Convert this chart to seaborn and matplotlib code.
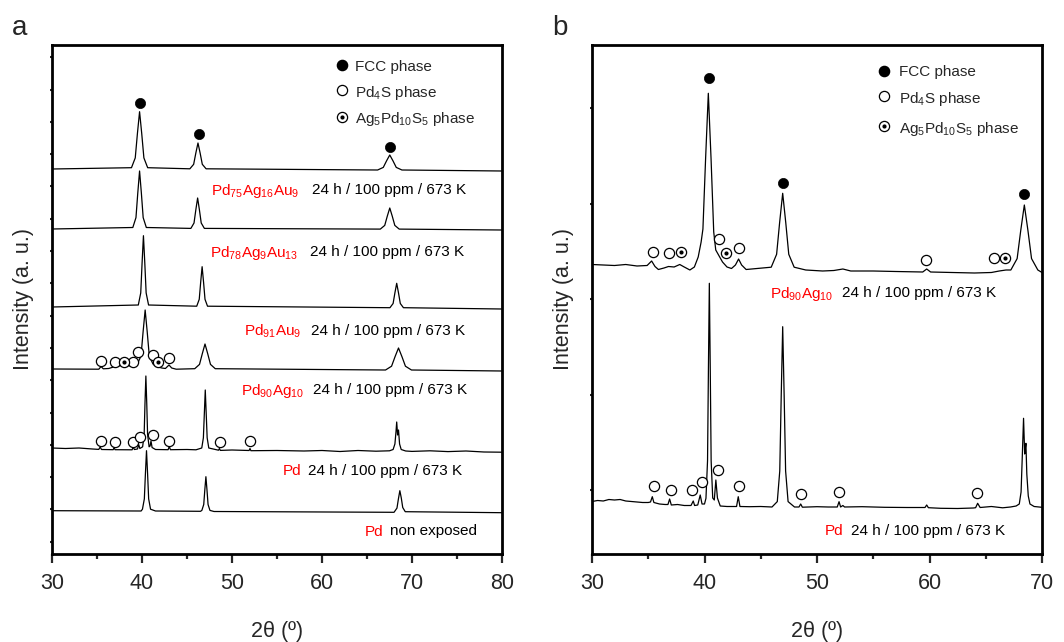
import numpy as np
import pandas as pd
import matplotlib
matplotlib.use("Agg")
import matplotlib.pyplot as plt
import seaborn as sns

# ---------------- panel a : stacked XRD patterns (2theta, offset intensity) -------------
a_pd75ag16au9_x = [30, 38.83, 39.25, 39.49, 39.73, 39.97, 40.21, 40.63, 45.32, 45.74, 45.98, 46.22, 46.46,
                   46.70, 47.12, 66.18, 66.81, 67.17, 67.53, 67.89, 68.25, 68.88, 80]
a_pd75ag16au9_y = [385, 386.3, 396.1, 420.4, 442.3, 420.4, 396.1, 386.3, 385.2, 389.7, 400.9, 411, 400.9,
                   389.7, 385.2, 384.0, 386.6, 393.1, 399, 393.1, 386.6, 384.0, 383]

a_pd78ag9au13_x = [30, 38.98, 39.33, 39.53, 39.73, 39.93, 40.13, 40.48, 45.43, 45.78, 45.98, 46.18, 46.38,
                   46.58, 46.93, 66.48, 66.97, 67.25, 67.53, 67.81, 68.09, 68.58, 80]
a_pd78ag9au13_y = [325, 326.5, 336.4, 360.9, 383, 360.9, 336.4, 326.5, 325.6, 331.0, 344.1, 356, 344.1,
                   331.0, 325.6, 324.9, 328.6, 337.7, 346, 337.7, 328.6, 324.9, 324]

a_pd91au9_x = [30, 39.59, 39.86, 40.01, 40.16, 40.31, 40.46, 40.73, 46.08, 46.36, 46.52, 46.68, 46.84,
               47.00, 47.28, 67.55, 67.90, 68.10, 68.30, 68.50, 68.70, 69.05, 80]
a_pd91au9_y = [247, 249.0, 261.1, 291.1, 318.3, 291.1, 261.1, 249.0, 247.8, 254.7, 271.8, 287.3, 271.8,
               254.7, 247.8, 246.3, 250.5, 261.1, 270.7, 261.1, 250.5, 246.3, 245]

a_pd90ag10_x = [30, 35.2, 35.45, 35.7, 36.3, 37.0, 37.7, 38.0, 38.3, 38.8, 39.0, 39.2, 39.48, 39.89, 40.12,
                40.35, 40.58, 40.81, 41.22, 41.5, 41.8, 42.2, 42.6, 43.0, 43.3, 43.8, 45.86, 46.39, 46.70,
                47.0, 47.30, 47.61, 48.14, 67.06, 67.73, 68.12, 68.5, 68.88, 69.27, 69.94, 80]
a_pd90ag10_y = [185, 184.8, 187.5, 185.2, 185.5, 187.5, 188.5, 189.5, 188.5, 188, 189.5, 188.5, 190, 198, 222,
                244, 222, 198, 190, 188, 187, 186, 185.5, 189, 186, 184.8, 185.3, 189.6, 200.3,
                210, 200.3, 189.6, 185.3, 184.0, 187.8, 197.4, 206, 197.4, 187.8, 184.0, 183]

a_pd_exposed_x = [30, 31.5, 33, 34.5, 35.2, 35.35, 35.5, 36.8, 36.9, 37.0, 38.9, 39.02, 39.15, 39.5, 39.63,
                  39.76, 40.07, 40.24, 40.33, 40.43, 40.53, 40.62, 40.79, 40.9, 41.0, 41.12, 41.5, 42.9,
                  43.03, 43.16, 45, 46.0, 46.64, 46.82, 46.93, 47.03, 47.13, 47.24, 47.42, 48.5, 48.6,
                  48.7, 50, 51.9, 52.0, 52.1, 55, 58, 60, 62, 64, 66, 67.5, 67.9, 68.1, 68.22, 68.3,
                  68.4, 68.5, 68.62, 68.8, 69.3, 70, 72, 74, 76, 78, 80]
a_pd_exposed_y = [106, 105.5, 106, 105, 104.6, 107, 104.5, 104.3, 106.5, 104.3, 104.2, 107, 104.5, 105, 109.5,
                  105.5, 107.2, 119.6, 150.1, 178, 150.1, 119.6, 107.2, 108, 113, 106.5, 104.5, 104.3,
                  107.5, 104.3, 104.5, 104.2, 106.0, 116.2, 141.3, 164, 141.3, 116.2, 106.0, 103.8, 105.5,
                  103.6, 104, 103.5, 105.5, 103.3, 103.5, 103, 103.5, 102.5, 103.5, 102.8, 103.2, 104.5, 110,
                  122, 132, 119, 124, 110, 104.5, 103, 102.6, 103.2, 102.4, 103, 102, 101.8]

a_pd_fresh_x = [30, 39.9, 40.05, 40.26, 40.38, 40.5, 40.62, 40.74, 40.95, 41.5, 46.5, 46.65, 46.86, 46.98,
                47.1, 47.22, 47.34, 47.55, 48, 68.0, 68.05, 68.33, 68.49, 68.65, 68.81, 68.97, 69.25, 80]
a_pd_fresh_y = [43.3, 43.0, 44.8, 55.1, 80.4, 103.3, 80.4, 55.1, 44.8, 43.0, 42.7, 43.6, 49.5, 64.1,
                77.3, 64.1, 49.5, 43.6, 42.5, 41.7, 42.3, 45.9, 55.1, 63.3, 56.0, 46.5, 42.3, 41.3]

# phase markers, panel a
a_fcc_x = [39.73, 46.3, 67.53]
a_fcc_y = [451.3, 419.7, 407.3]
a_pd4s_x = [35.47, 36.97, 39.0, 39.5, 41.23, 43.03, 35.47, 37.01, 39.0, 39.81, 41.23, 43.03, 48.64, 52.02]
a_pd4s_y = [193, 192, 192, 202, 199, 196.3, 113, 112, 112, 117.3, 119, 113, 112, 113]
a_agpds_x = [37.97, 41.81]
a_agpds_y = [192, 192]

# ---------------- panel b -------------
b_pd90ag10_x = [30, 31, 32, 33, 34, 34.9, 35.3, 35.6, 35.9, 36.4, 36.8, 37.3, 37.8, 38.2, 38.7, 39.1, 39.44,
                39.7, 39.86, 40.1, 40.34, 40.58, 40.82, 41.0, 41.3, 41.6, 42.0, 42.4, 42.75, 43.03, 43.3,
                43.7, 45.93, 46.41, 46.68, 46.95, 47.22, 47.49, 47.97, 49, 50.5, 51.5, 52.3, 53, 55, 57,
                59.4, 59.75, 60.1, 62, 64, 65.5, 66.2, 66.8, 67.23, 67.79, 68.11, 68.43, 68.75, 69.07,
                69.63, 70]
b_pd90ag10_y = [289.5, 289, 288.5, 289.5, 288, 288.5, 293, 287.5, 284.5, 286, 287.5, 287, 289.5, 287, 284,
                287, 297, 312, 325, 396, 460.7, 396, 322, 304, 298, 292, 287, 285.5, 289, 295, 289, 284.5,
                286.8, 299.7, 331.7, 360.7, 331.7, 299.7, 286.8, 284, 283, 283.5, 285, 283, 283, 282.5,
                282, 285, 282, 281.5, 281, 281.5, 283, 284, 284, 295.4, 323.5, 349, 323.5, 295.4, 284,
                281.5]

b_pd_exposed_x = [30, 30.5, 31, 31.5, 32, 32.5, 33, 33.5, 34, 34.5, 35.0, 35.2, 35.36, 35.5, 36.0, 36.5,
                  36.75, 36.9, 37.05, 37.6, 38.2, 38.8, 39.0, 39.12, 39.4, 39.62, 39.78, 40.0, 40.13,
                  40.27, 40.35, 40.43, 40.51, 40.59, 40.73, 40.87, 41.01, 41.15, 41.4, 42.0, 42.85, 43.0,
                  43.15, 44, 45, 46.0, 46.47, 46.69, 46.82, 46.95, 47.08, 47.21, 47.43, 48, 48.4, 48.55,
                  48.7, 50, 51, 51.8, 51.96, 52.1, 52.3, 52.45, 54, 56, 58, 59.6, 59.75, 59.9, 61, 62.5,
                  63.9, 64.1, 64.28, 64.5, 65.5, 66.5, 67.2, 67.7, 67.98, 68.14, 68.24, 68.36, 68.46,
                  68.52, 68.57, 68.65, 68.78, 68.93, 69.3, 70]
b_pd_exposed_y = [52.5, 53.5, 53, 54.5, 54, 54.5, 53, 52.5, 52, 51.5, 51.5, 52, 57.3, 51.5, 50, 49.5,
                  49.5, 55, 49, 49.5, 48.5, 48.5, 53, 48.5, 49, 59, 50, 50, 55.7,
                  93.3, 186.5, 270.7, 186.5, 93.3, 56, 54, 74, 56, 48, 47.5, 47.5, 57.3,
                  47.5, 47.3, 47.5, 47, 52.4, 83, 158.6, 227.3, 158.6, 83, 52.4, 47, 47, 50,
                  46.8, 47.3, 47, 47, 52.3, 47, 48.5, 47, 47.3, 46.7, 46.5, 46.5, 49, 46.3, 45.7, 45.5,
                  46, 46.3, 50.7, 46.5, 47.5, 46.2, 47, 48, 50, 62, 95, 135.7, 100,
                  106, 110.7, 80, 58, 50, 47.5, 46.7]

b_fcc_x = [40.41, 46.95, 68.42]
b_fcc_y = [475.7, 371.3, 360]
b_pd4s_x = [35.44, 36.86, 41.3, 43.07, 59.7, 65.76, 35.53, 37.01, 38.9, 39.76, 41.2, 43.04, 48.6, 51.96, 64.2]
b_pd4s_y = [302.3, 300.7, 314.7, 305.7, 294.3, 296.3, 68, 64, 63.7, 71.7, 84, 68, 60.3, 61.7, 60.7]
b_agpds_x = [37.9, 41.89, 66.73]
b_agpds_y = [301.7, 300.7, 296.3]

legend_labels = ["FCC phase", "Pd$_4$S phase", "Ag$_5$Pd$_{10}$S$_5$ phase"]

a_samples = ["Pd$_{75}$Ag$_{16}$Au$_9$", "Pd$_{78}$Ag$_9$Au$_{13}$", "Pd$_{91}$Au$_9$",
             "Pd$_{90}$Ag$_{10}$", "Pd", "Pd"]
a_conditions = ["24 h / 100 ppm / 673 K"] * 5 + ["non exposed"]
b_samples = ["Pd$_{90}$Ag$_{10}$", "Pd"]
b_conditions = ["24 h / 100 ppm / 673 K", "24 h / 100 ppm / 673 K"]

# ---------------- style -------------
sns.set_theme(style="ticks")
plt.rcParams["font.family"] = ["Liberation Sans", "DejaVu Sans"]
plt.rcParams["mathtext.default"] = "regular"
plt.rcParams["mathtext.fontset"] = "custom"
plt.rcParams["mathtext.rm"] = "Liberation Sans"
plt.rcParams["mathtext.it"] = "Liberation Sans"

fig = plt.figure(figsize=(10.64, 6.42), dpi=100)
axa = fig.add_axes([52 / 1064, 1 - 554 / 642, 450 / 1064, 509 / 642])
axb = fig.add_axes([592 / 1064, 1 - 554 / 642, 450 / 1064, 509 / 642])

RED = "#ff0000"
TXT = 11
LW = 0.9
MS = 54


def trace(ax, xs, ys):
    sns.lineplot(x=xs, y=ys, ax=ax, color="black", linewidth=LW, estimator=None, sort=False)


def markers(ax, fx, fy, ox, oy, dx, dy):
    sns.scatterplot(x=fx, y=fy, ax=ax, color="black", s=MS, marker="o", edgecolor="black", linewidth=0.5,
                    zorder=5)
    ax.scatter(ox, oy, s=MS, facecolor="white", edgecolor="black", linewidth=0.9, zorder=5)
    ax.scatter(dx, dy, s=MS, facecolor="white", edgecolor="black", linewidth=0.9, zorder=5)
    ax.scatter(dx, dy, s=9, color="black", linewidth=0, zorder=6)


def legend(ax, x, ys, tx):
    ax.scatter([x], [ys[0]], s=MS, color="black", zorder=5)
    ax.scatter([x], [ys[1]], s=MS, facecolor="white", edgecolor="black", linewidth=0.9, zorder=5)
    ax.scatter([x], [ys[2]], s=MS, facecolor="white", edgecolor="black", linewidth=0.9, zorder=5)
    ax.scatter([x], [ys[2]], s=9, color="black", linewidth=0, zorder=6)
    for yy, lab in zip(ys, legend_labels):
        ax.text(tx, yy, lab, fontsize=TXT, va="center_baseline", ha="left")


for xs, ys in [(a_pd75ag16au9_x, a_pd75ag16au9_y), (a_pd78ag9au13_x, a_pd78ag9au13_y),
               (a_pd91au9_x, a_pd91au9_y), (a_pd90ag10_x, a_pd90ag10_y),
               (a_pd_exposed_x, a_pd_exposed_y), (a_pd_fresh_x, a_pd_fresh_y)]:
    trace(axa, xs, ys)
markers(axa, a_fcc_x, a_fcc_y, a_pd4s_x, a_pd4s_y, a_agpds_x, a_agpds_y)
legend(axa, 62.2, [489, 464, 437], 63.7)

a_label_pos = [(47.72, 58.9, 365.3), (47.52, 58.7, 304), (51.37, 58.78, 224.7),
               (51.02, 59.0, 165.7), (55.63, 58.5, 84.7), (64.72, 67.61, 24)]
for (sx, cx, yy), s, c in zip(a_label_pos, a_samples, a_conditions):
    axa.text(sx, yy, s, color=RED, fontsize=TXT, va="center_baseline", ha="left")
    axa.text(cx, yy, c, color="black", fontsize=TXT, va="center_baseline", ha="left")

trace(axb, b_pd90ag10_x, b_pd90ag10_y)
trace(axb, b_pd_exposed_x, b_pd_exposed_y)
markers(axb, b_fcc_x, b_fcc_y, b_pd4s_x, b_pd4s_y, b_agpds_x, b_agpds_y)
legend(axb, 55.94, [483.3, 458, 428], 57.27)
b_label_pos = [(45.79, 52.25, 262.3), (50.67, 53.04, 24.7)]
for (sx, cx, yy), s, c in zip(b_label_pos, b_samples, b_conditions):
    axb.text(sx, yy, s, color=RED, fontsize=TXT, va="center_baseline", ha="left")
    axb.text(cx, yy, c, color="black", fontsize=TXT, va="center_baseline", ha="left")

for ax, xmax, yt in [(axa, 80, np.arange(12.3, 509, 32.3)), (axb, 70, np.arange(64, 509, 95.5))]:
    ax.set_xlim(30, xmax)
    ax.set_ylim(0, 509)
    ax.set_xticks(np.arange(30, xmax + 1, 10))
    ax.set_xticks(np.arange(35, xmax, 10), minor=True)
    ax.set_yticks(yt)
    ax.set_yticklabels([])
    ax.set_xlabel("")
    ax.set_ylabel("")
    ax.tick_params(axis="x", which="major", direction="out", length=6.5, width=1.6, labelsize=15.5, pad=7)
    ax.tick_params(axis="x", which="minor", direction="out", length=3.5, width=1.6)
    ax.tick_params(axis="y", which="major", direction="out", length=1.5, width=1.5)
    for sp in ax.spines.values():
        sp.set_visible(True)
        sp.set_linewidth(2.0)
        sp.set_color("black")

fig.text(277 / 1064, 1 - 632 / 642, "2θ (º)", fontsize=15.5, ha="center", va="center")
fig.text(817 / 1064, 1 - 632 / 642, "2θ (º)", fontsize=15.5, ha="center", va="center")
fig.text(23.3 / 1064, 1 - 298.5 / 642, "Intensity (a. u.)", fontsize=15.5, rotation=90, ha="center", va="center")
fig.text(563.3 / 1064, 1 - 298.5 / 642, "Intensity (a. u.)", fontsize=15.5, rotation=90, ha="center", va="center")
fig.text(12 / 1064, 1 - 35 / 642, "a", fontsize=20, ha="left", va="baseline")
fig.text(552 / 1064, 1 - 35 / 642, "b", fontsize=20, ha="left", va="baseline")

fig.savefig("out.png", dpi=100)
